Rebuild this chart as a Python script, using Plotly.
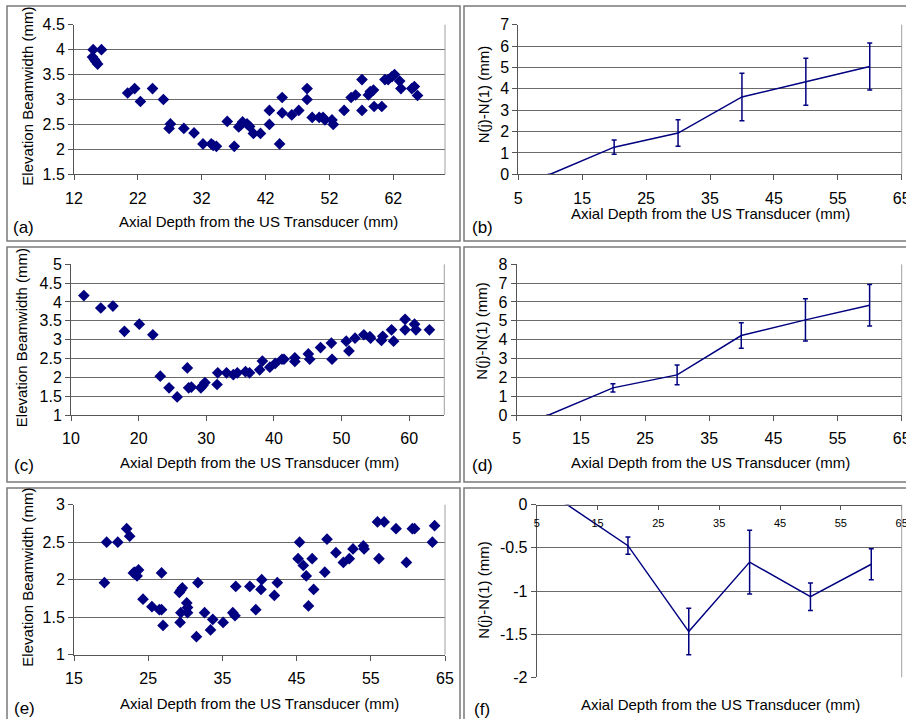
import plotly.graph_objects as go

W, H = 906, 719

# ---------------- data ----------------
a_x = [15.0, 16.3, 14.9, 15.2, 15.4, 15.7, 20.4, 21.5, 22.4, 24.3, 26.0, 26.9, 27.1, 29.2, 30.8,
       32.2, 33.5, 33.8, 34.3, 36.0, 37.1, 37.8, 38.1, 38.4, 39.1, 39.5, 40.1, 41.2, 42.6, 42.6,
       44.2, 44.6, 44.6, 46.1, 47.2, 48.5, 48.5, 49.3, 50.4, 51.0, 51.3, 52.4, 52.6, 54.3, 55.4,
       56.1, 57.1, 57.1, 58.1, 58.4, 58.9, 59.0, 60.2, 60.7, 61.2, 61.8, 62.2, 63.0, 63.2, 64.9,
       65.3, 65.8]
a_y = [4.0, 4.0, 3.85, 3.80, 3.76, 3.71, 3.13, 3.22, 2.96, 3.22, 3.0, 2.42, 2.51, 2.42, 2.33,
       2.11, 2.11, 2.08, 2.06, 2.56, 2.06, 2.45, 2.49, 2.55, 2.51, 2.46, 2.32, 2.32, 2.78, 2.50,
       2.11, 3.04, 2.73, 2.69, 2.78, 3.22, 3.00, 2.64, 2.64, 2.64, 2.59, 2.59, 2.50, 2.78, 3.04,
       3.09, 3.40, 2.78, 3.09, 3.16, 3.19, 2.86, 2.86, 3.40, 3.40, 3.46, 3.50, 3.37, 3.22, 3.22,
       3.26, 3.08]

c_x = [11.9, 14.4, 16.2, 17.9, 20.1, 22.1, 23.2, 24.5, 25.7, 27.2, 27.4, 27.8, 29.2, 29.5, 29.8,
       31.6, 31.7, 33.0, 34.0, 34.6, 35.8, 36.4, 37.9, 38.3, 39.4, 40.2, 41.2, 41.5, 43.1, 43.1,
       45.1, 45.3, 46.9, 48.5, 48.6, 50.7, 51.1, 52.0, 53.3, 54.2, 54.3, 55.9, 56.1, 57.4, 57.7,
       59.4, 59.4, 60.8, 61.0, 63.0]
c_y = [4.17, 3.84, 3.89, 3.22, 3.41, 3.13, 2.03, 1.72, 1.48, 2.25, 1.72, 1.74, 1.72, 1.78, 1.86,
       1.81, 2.12, 2.12, 2.07, 2.12, 2.15, 2.12, 2.20, 2.43, 2.27, 2.37, 2.48, 2.48, 2.52, 2.42,
       2.62, 2.48, 2.79, 2.91, 2.48, 2.96, 2.70, 3.04, 3.13, 3.08, 3.04, 2.98, 3.09, 3.26, 2.96,
       3.54, 3.26, 3.41, 3.26, 3.26]

e_x = [19.1, 19.4, 20.9, 22.1, 22.5, 23.0, 23.2, 23.5, 23.7, 24.3, 25.5, 26.5, 26.8, 26.8, 27.0,
       29.2, 29.4, 29.6, 29.3, 29.4, 30.2, 30.3, 30.3, 31.5, 31.7, 32.6, 33.4, 33.7, 35.1, 36.4,
       36.7, 36.8, 38.7, 39.5, 40.2, 40.3, 42.0, 42.4, 45.2, 45.4, 45.9, 46.3, 46.6, 47.1, 47.3,
       48.8, 49.1, 50.3, 51.3, 52.1, 52.6, 54.0, 54.1, 55.9, 56.1, 56.8, 58.4, 59.8, 60.6, 60.9,
       63.3, 63.6]
e_y = [1.96, 2.50, 2.50, 2.68, 2.58, 2.09, 2.10, 2.05, 2.13, 1.74, 1.64, 1.60, 1.60, 2.09, 1.39,
       1.83, 1.86, 1.89, 1.43, 1.56, 1.69, 1.63, 1.56, 1.24, 1.96, 1.56, 1.33, 1.47, 1.43, 1.56,
       1.52, 1.91, 1.91, 1.60, 1.87, 2.00, 1.79, 1.96, 2.28, 2.50, 2.19, 2.05, 1.65, 2.28, 1.87,
       2.10, 2.54, 2.36, 2.23, 2.28, 2.41, 2.45, 2.41, 2.77, 2.28, 2.77, 2.68, 2.23, 2.68, 2.68,
       2.50, 2.72]

depth = [10, 20, 30, 40, 50, 60]
b_y = [0, 1.27, 1.93, 3.62, 4.33, 5.04]
b_err = [None, 0.33, 0.62, 1.11, 1.10, 1.10]
d_y = [0, 1.44, 2.13, 4.22, 5.05, 5.83]
d_err = [None, 0.22, 0.53, 0.68, 1.12, 1.10]
f_y = [0, -0.475, -1.47, -0.665, -1.066, -0.69]
f_err = [None, 0.10, 0.27, 0.37, 0.16, 0.18]

f_ticks = [-2, -1.5, -1, -0.5, 0]
f_ticktext = ['-2', '-1.5', '-1', '-0.5', '0']

xtitle = 'Axial Depth from the US Transducer (mm)'
ytitle_scatter = 'Elevation Beamwidth (mm)'
ytitle_line = 'N(j)-N(1) (mm)'
letters = ['(a)', '(b)', '(c)', '(d)', '(e)', '(f)']

# ---------------- styling ----------------
NAVY = '#000080'
FONT = 'Liberation Sans, Arial, sans-serif'
GRID = '#6a6a6a'
AXIS = '#555555'

def px_x(p):
    return p / W

def py_y(p):
    return 1 - p / H

# plot-area pixel boxes: (x0, x1, ytop, ybottom)
boxes = [
    (74, 445, 24.7, 174.3),
    (518.3, 901.7, 24.7, 174.3),
    (71, 444.3, 264.3, 415),
    (516.7, 901.7, 264.3, 415),
    (74, 445, 504.7, 654.7),
    (536.7, 901.7, 504.7, 677.3),
]

fig = go.Figure()
layout = dict(width=W, height=H, margin=dict(l=0, r=0, t=0, b=0, autoexpand=False),
              paper_bgcolor='white', plot_bgcolor='white', showlegend=False,
              font=dict(family=FONT, color='black', size=15))

xr = [[12, 70.1], [5, 65], [10, 65.2], [5, 65], [15, 65], [5, 65]]
x0s = [12, 5, 10, 5, 15, 5]
yr = [[1.5, 4.5], [0, 7], [1, 5], [0, 8], [1, 3], [-2, 0]]
ydt = [0.5, 1, 0.5, 1, 0.5, 0.5]

for i, (bx0, bx1, byt, byb) in enumerate(boxes):
    n = '' if i == 0 else str(i + 1)
    xa = dict(domain=[px_x(bx0), px_x(bx1)], range=xr[i], tick0=x0s[i], dtick=10,
              showgrid=False, zeroline=False, showline=True, linecolor=AXIS, linewidth=1,
              ticks='outside', ticklen=5, tickcolor=AXIS, tickfont=dict(size=16, family=FONT),
              anchor='y' + n, ticklabelstandoff=4, automargin=False,
              ticklabeloverflow='allow')
    ya = dict(domain=[py_y(byb), py_y(byt)], range=yr[i], dtick=ydt[i],
              showgrid=True, gridcolor=GRID, gridwidth=1, zeroline=False,
              showline=True, linecolor=AXIS, linewidth=1, ticks='outside', ticklen=5,
              tickcolor=AXIS, tickfont=dict(size=16, family=FONT), anchor='x' + n,
              automargin=False)
    if i == 5:
        xa.update(anchor='free', position=py_y(byt), side='bottom', ticklen=4,
                  tickfont=dict(size=11, family=FONT), ticklabelstandoff=4)
        ya.update(tickmode='array', tickvals=f_ticks, ticktext=f_ticktext)
    layout['xaxis' + n] = xa
    layout['yaxis' + n] = ya

scatter_sets = [(0, a_x, a_y), (2, c_x, c_y), (4, e_x, e_y)]
for i, xs, ys in scatter_sets:
    n = '' if i == 0 else str(i + 1)
    fig.add_trace(go.Scatter(x=xs, y=ys, mode='markers', xaxis='x' + n, yaxis='y' + n,
                             marker=dict(symbol='diamond', size=9, color=NAVY),
                             cliponaxis=False))

line_sets = [(1, b_y, b_err), (3, d_y, d_err), (5, f_y, f_err)]
for i, ys, errs in line_sets:
    n = str(i + 1)
    fig.add_trace(go.Scatter(x=depth, y=ys, mode='lines', xaxis='x' + n, yaxis='y' + n,
                             line=dict(color=NAVY, width=1.5),
                             error_y=dict(type='data', array=errs, visible=True,
                                          color=NAVY, thickness=1.5, width=2.5)))

shapes = []
# plot-area outline (right edge light gray)
for (bx0, bx1, byt, byb) in boxes:
    shapes.append(dict(type='line', xref='paper', yref='paper', x0=px_x(bx1), x1=px_x(bx1),
                       y0=py_y(byb), y1=py_y(byt), line=dict(color='#a0a0a0', width=1)))
# panel frames
frames = [(7, 460, 6, 241), (464, 912, 6, 241), (7, 460, 247, 482), (464, 912, 247, 482),
          (7, 460, 488, 725), (464, 912, 488, 725)]
for (fx0, fx1, fy0, fy1) in frames:
    shapes.append(dict(type='rect', xref='paper', yref='paper', x0=px_x(fx0), x1=px_x(fx1),
                       y0=py_y(fy1), y1=py_y(fy0), line=dict(color='#7a7a7a', width=1.5),
                       layer='below'))
layout['shapes'] = shapes

ann = []
xt_pos = [(258.7, 221.7), (710, 213.3), (259.5, 462.7), (710.8, 462.7), (259.5, 703), (720.7, 704)]
yt_pos = [(26.7, 96), (483.3, 95), (21.7, 337.5), (481.7, 331), (26.7, 577), (483.3, 590.5)]
let_pos = [(23, 228), (482, 228), (24, 465), (482, 465), (24, 708), (482, 709)]
for i in range(6):
    ann.append(dict(text=xtitle, x=px_x(xt_pos[i][0]), y=py_y(xt_pos[i][1]), xref='paper',
                    yref='paper', showarrow=False, xanchor='center', yanchor='middle',
                    font=dict(size=15, family=FONT)))
    ann.append(dict(text=ytitle_scatter if i % 2 == 0 else ytitle_line,
                    x=px_x(yt_pos[i][0]), y=py_y(yt_pos[i][1]), xref='paper', yref='paper',
                    showarrow=False, textangle=-90, xanchor='center', yanchor='middle',
                    font=dict(size=15, family=FONT)))
    ann.append(dict(text=letters[i], x=px_x(let_pos[i][0]), y=py_y(let_pos[i][1]), xref='paper',
                    yref='paper', showarrow=False, xanchor='center', yanchor='middle',
                    font=dict(size=17, family=FONT)))
layout['annotations'] = ann

fig.update_layout(**layout)
fig.write_html('out.html', config={'displayModeBar': False},
               post_script="document.body.style.margin='0';document.body.style.overflow='hidden';")
